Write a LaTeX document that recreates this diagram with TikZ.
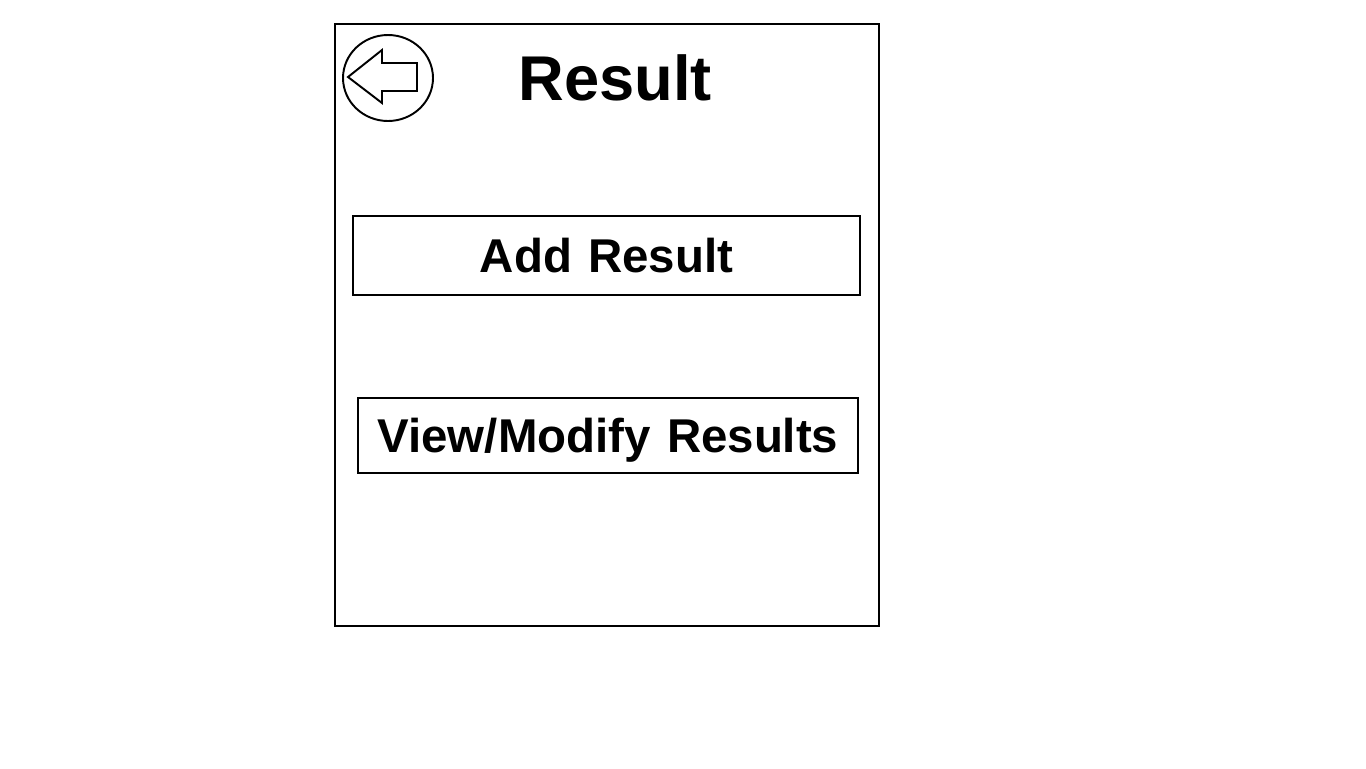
\documentclass[tikz,border=0pt]{standalone}
\usepackage{fontspec}
\setmainfont{Liberation Sans}
\usetikzlibrary{shapes.geometric}
\tikzset{
  button/.style = {
    draw, line width=1.5pt,
    font=\fontsize{27}{29}\selectfont\bfseries,
    execute at begin node={\spaceskip=0.34em\relax},
    text height=19.3pt, text depth=0pt, inner sep=0pt
  }
}

\begin{document}
\begin{tikzpicture}[x=0.02cm,y=-0.02cm,line join=miter]
  \useasboundingbox (0,0) rectangle (1366,768);
  \draw[line width=1.5pt] (335,24) rectangle (879,626);
  \node[draw, ellipse, line width=1.1pt, minimum width=1.8cm, minimum height=1.72cm] (back) at (388,78) {};
  \draw[line width=1.1pt] (348,77) -- (382,50) -- (382,63) -- (417,63)
        -- (417,91) -- (382,91) -- (382,103) -- cycle;
  \node[anchor=base, font=\fontsize{36}{38}\selectfont\bfseries] (title) at (615,100) {Result};
  \node[button, minimum width=10.14cm, minimum height=1.58cm] (add) at (606.5,255.5) {Add Result};
  \node[button, minimum width=10cm, minimum height=1.5cm] (view) at (608,435.5) {View/Modify Results};
\end{tikzpicture}
\end{document}
